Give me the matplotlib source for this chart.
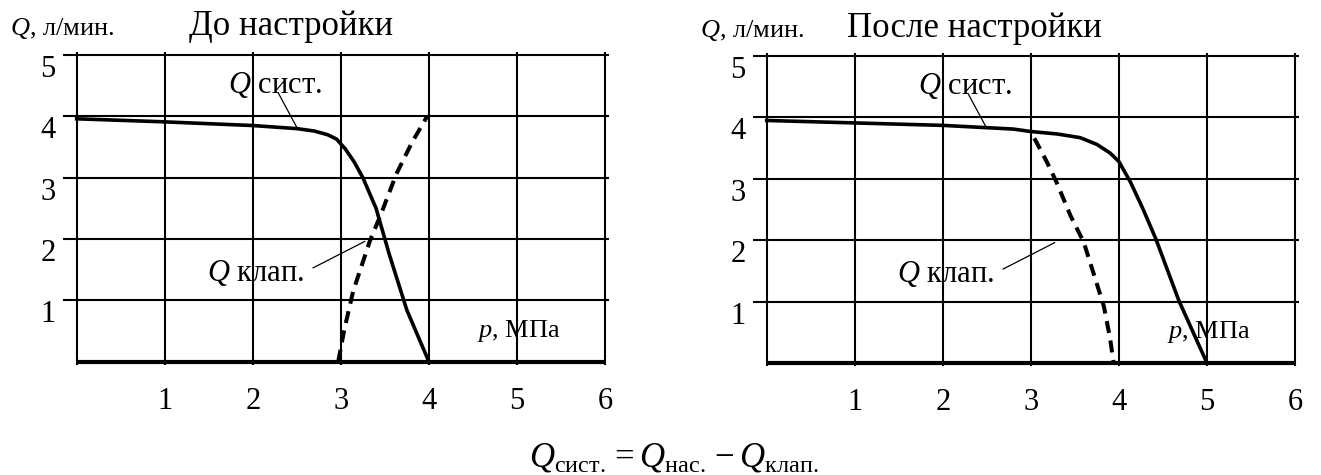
import matplotlib
matplotlib.use("Agg")
import matplotlib.pyplot as plt

plt.rcParams['font.family'] = ['Liberation Serif', 'DejaVu Serif']
plt.rcParams['mathtext.fontset'] = 'custom'
plt.rcParams['mathtext.rm'] = 'Liberation Serif'
plt.rcParams['mathtext.it'] = 'Liberation Serif:italic'

# grid / ticks
p_ticks = [0, 1, 2, 3, 4, 5, 6]
q_ticks = [0, 1, 2, 3, 4, 5]
p_labels = ['1', '2', '3', '4', '5', '6']
q_labels = ['1', '2', '3', '4', '5']

# "До настройки"
p_sys_before = [0, 1, 2, 2.5, 2.7, 2.85, 2.95, 3.05, 3.15, 3.25, 3.4, 3.55, 3.75, 4.0]
q_sys_before = [3.96, 3.91, 3.85, 3.80, 3.76, 3.70, 3.63, 3.47, 3.26, 3.0, 2.5, 1.75, 0.84, 0.0]
p_valve_before = [2.97, 3.04, 3.14, 3.33, 3.46, 3.63, 3.81, 3.98]
q_valve_before = [0, 0.53, 1.15, 1.97, 2.42, 3.06, 3.58, 4.0]

# "После настройки"
p_sys_after = [0, 1, 2, 2.8, 3.0, 3.3, 3.56, 3.75, 3.9, 4.0, 4.13, 4.27, 4.42, 4.68, 5.0]
q_sys_after = [3.95, 3.91, 3.87, 3.81, 3.77, 3.73, 3.67, 3.56, 3.42, 3.28, 2.95, 2.52, 2.02, 1.02, 0.0]
p_valve_after = [3.04, 3.18, 3.29, 3.45, 3.6, 3.71, 3.83, 3.9, 3.94]
q_valve_after = [3.66, 3.28, 2.95, 2.4, 1.97, 1.47, 0.92, 0.4, 0.0]

W, H = 1321, 475
fig = plt.figure(figsize=(W / 100, H / 100), dpi=100)


def px_axes(x0, x1, ytop, ybot):
    return fig.add_axes([x0 / W, 1 - ybot / H, (x1 - x0) / W, (ybot - ytop) / H])


def panel(ax, p_sys, q_sys, p_valve, q_valve):
    ax.set_xlim(0, 6)
    ax.set_ylim(0, 5)
    for s in ax.spines.values():
        s.set_visible(False)
    for q in q_ticks[1:]:
        ax.plot([-0.16, 6.04], [q, q], color='black', lw=1.5, clip_on=False,
                solid_capstyle='butt')
    for p in p_ticks:
        ax.plot([p, p], [-0.05, 5.05], color='black', lw=1.5, clip_on=False,
                solid_capstyle='butt')
    ax.plot([0, 6], [0, 0], color='black', lw=3.0, clip_on=False, solid_capstyle='butt')

    ax.plot(p_sys, q_sys, color='black', lw=2.6, clip_on=False, solid_joinstyle='round')
    ax.plot(p_valve, q_valve, color='black', lw=2.9, clip_on=False, dashes=(3.0, 1.9))

    ax.set_xticks(p_ticks[1:], p_labels)
    ax.set_yticks(q_ticks[1:], q_labels)
    ax.tick_params(axis='x', length=0, pad=18, labelsize=22)
    ax.tick_params(axis='y', length=0, pad=15, labelsize=22)
    for t in ax.get_yticklabels():
        t.set_verticalalignment('top')

    # callouts
    ax.text(1.72, 4.51, '$Q$ сист.', fontsize=22, ha='left', va='center')
    ax.plot([2.29, 2.50], [4.38, 3.82], color='black', lw=0.9)
    ax.text(1.48, 1.445, '$Q$ клап.', fontsize=22, ha='left', va='center')
    ax.plot([2.685, 3.27], [1.53, 1.96], color='black', lw=0.9)
    ax.text(4.55, 0.5, '$p$, МПа', fontsize=19, ha='left', va='center')


ax1 = px_axes(76.7, 605, 55, 361.7)
panel(ax1, p_sys_before, q_sys_before, p_valve_before, q_valve_before)
ax2 = px_axes(766.7, 1295, 56, 363)
panel(ax2, p_sys_after, q_sys_after, p_valve_after, q_valve_after)

fig.text(10 / W, 1 - 35 / H, '$Q$, л/мин.', fontsize=19, va='baseline')
fig.text(189 / W, 1 - 35 / H, 'До настройки', fontsize=25, va='baseline')
fig.text(700 / W, 1 - 36.7 / H, '$Q$, л/мин.', fontsize=19, va='baseline')
fig.text(847 / W, 1 - 36.7 / H, 'После настройки', fontsize=25, va='baseline')

fig.text(674 / W, 1 - 466 / H,
         r'$Q_{\mathrm{сист.}} = Q_{\mathrm{нас.}} - Q_{\mathrm{клап.}}$',
         fontsize=25, ha='center', va='baseline')

fig.savefig('out.png', dpi=100)
